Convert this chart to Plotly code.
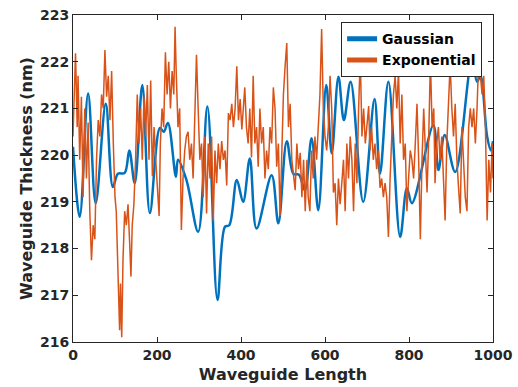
import plotly.graph_objects as go

# Gaussian-correlated roughness (smooth)
gauss_x = [0, 16, 36, 54, 78, 95, 107, 123, 134, 147, 165, 183, 207, 216, 226, 245, 250, 270,
           298, 320, 344, 362, 372, 390, 405, 421, 437, 473, 489, 509, 525, 538, 552, 568, 584,
           603, 616, 632, 645, 661, 691, 718, 731, 751, 779, 795, 807, 858, 870, 885, 910, 950,
           962, 970, 986, 995, 1000]
gauss_y = [220.18, 218.68, 221.32, 218.97, 221.1, 219.32, 219.6, 219.62, 220.1, 219.4, 221.5,
           218.76, 220.58, 220.5, 220.69, 219.54, 219.9, 219.47, 218.36, 221.04, 216.9, 218.47,
           218.5, 219.47, 219.0, 219.93, 218.43, 219.57, 218.54, 220.3, 219.6, 219.58, 219.25,
           220.36, 218.82, 221.5, 220.04, 221.68, 220.75, 221.57, 219.0, 221.2, 219.6, 221.57,
           218.25, 219.29, 218.97, 220.64, 219.68, 220.43, 219.64, 222.04, 221.57, 221.7, 220.4,
           220.1, 220.3]

# Exponential-correlated roughness (jagged)
expo_x = [0, 4, 6, 10, 12, 16, 20, 24, 28, 32, 36, 40, 44, 48, 52, 56, 60, 64, 68, 72, 76, 80,
          84, 88, 92, 96, 100, 103, 107, 111, 113, 116, 119, 123, 127, 131, 135, 138, 141, 145,
          149, 153, 157, 161, 165, 169, 173, 177, 181, 185, 189, 193, 197, 201, 205, 208, 212,
          216, 220, 224, 228, 232, 236, 240, 243, 246, 250, 254, 258, 262, 266, 270, 274, 278,
          282, 286, 290, 294, 298, 302, 306, 310, 314, 318, 322, 326, 330, 334, 338, 342, 346,
          350, 354, 358, 362, 366, 370, 374, 378, 382, 386, 390, 394, 398, 402, 406, 409, 413,
          417, 421, 425, 429, 433, 437, 441, 445, 449, 453, 457, 461, 465, 469, 473, 477, 481,
          485, 489, 493, 497, 501, 505, 509, 513, 517, 521, 525, 529, 533, 537, 541, 545, 549,
          553, 557, 560, 564, 568, 572, 576, 580, 584, 588, 592, 596, 600, 604, 608, 612, 616,
          620, 624, 628, 632, 636, 640, 644, 648, 652, 656, 660, 664, 668, 672, 676, 680, 684,
          688, 692, 696, 700, 704, 707, 711, 715, 719, 723, 727, 731, 735, 739, 743, 747, 751,
          755, 759, 763, 767, 771, 775, 779, 783, 787, 791, 795, 799, 803, 807, 811, 815, 819,
          823, 827, 831, 835, 839, 843, 847, 851, 855, 859, 862, 866, 870, 874, 878, 882, 886,
          890, 894, 898, 902, 906, 910, 914, 918, 922, 926, 930, 934, 938, 942, 946, 950, 954,
          958, 962, 966, 970, 974, 978, 982, 986, 990, 994, 998, 1000]
expo_y = [220.4, 221.47, 222.18, 220.6, 221.7, 219.9, 221.25, 219.1, 221.0, 219.5, 220.7, 218.8,
          217.75, 218.5, 218.2, 219.9, 220.75, 220.4, 221.3, 221.0, 222.25, 221.25, 221.7, 220.75,
          221.8, 220.25, 219.1, 218.8, 217.25, 216.25, 217.25, 216.1, 217.75, 218.8, 218.5,
          218.95, 218.1, 217.4, 218.5, 218.95, 219.9, 221.3, 220.25, 221.0, 219.9, 221.25, 220.4,
          221.5, 219.9, 221.6, 219.55, 220.6, 219.9, 219.2, 218.7, 220.25, 221.0, 220.6, 222.2,
          221.3, 222.0, 221.0, 221.8, 221.3, 222.75, 221.7, 220.6, 221.0, 218.4, 219.5, 220.1,
          220.4, 220.5, 219.9, 220.25, 219.5, 221.0, 222.15, 221.0, 219.9, 220.25, 219.1, 220.4,
          218.75, 220.25, 219.5, 220.4, 218.6, 220.1, 219.4, 220.25, 219.7, 220.3, 219.9, 220.1,
          219.35, 220.9, 220.75, 221.1, 220.6, 221.0, 221.9, 220.75, 221.2, 220.55, 221.0,
          221.45, 220.6, 220.25, 221.0, 219.95, 221.7, 220.25, 220.6, 219.75, 221.0, 220.25,
          220.6, 219.5, 220.1, 219.7, 220.6, 220.25, 221.45, 221.0, 219.75, 220.25, 218.7, 220.1,
          221.3, 221.9, 222.4, 220.6, 221.1, 219.9, 219.5, 219.25, 220.25, 219.7, 220.05, 219.1,
          219.9, 218.8, 219.9, 219.1, 218.8, 220.1, 219.5, 220.4, 219.9, 220.75, 221.3, 222.7,
          221.0, 220.4, 220.1, 220.6, 221.7, 221.0, 219.2, 219.4, 218.5, 219.5, 218.95, 219.4,
          219.9, 218.8, 220.25, 219.5, 220.4, 219.9, 218.8, 220.25, 219.4, 221.0, 222.1, 220.4,
          221.0, 220.25, 220.6, 221.05, 220.1, 220.6, 219.9, 220.25, 219.7, 220.1, 219.3, 219.5,
          219.1, 219.4, 219.1, 218.25, 219.5, 220.6, 221.3, 221.7, 221.0, 221.8, 220.25, 221.3,
          219.9, 220.25, 218.8, 219.5, 220.1, 219.9, 219.5, 220.25, 221.1, 219.9, 218.2, 219.9,
          221.0, 220.1, 219.2, 220.4, 222.05, 220.6, 221.0, 219.4, 220.25, 220.6, 219.9, 220.4,
          219.5, 218.6, 220.25, 221.0, 221.95, 221.0, 220.4, 221.1, 219.9, 219.3, 218.75, 220.6,
          219.9, 219.1, 218.8, 220.6, 221.0, 220.6, 221.0, 220.25, 221.0, 222.1, 221.7, 221.3,
          221.7, 220.6, 218.6, 219.9, 219.2, 220.25, 219.5]

x_ticks = [0, 200, 400, 600, 800, 1000]
y_ticks = [216, 217, 218, 219, 220, 221, 222, 223]

BLUE = "#0072BD"
ORANGE = "#D95319"
AX = "#262626"
FONT = "DejaVu Sans"

fig = go.Figure()
fig.add_trace(go.Scatter(x=gauss_x, y=gauss_y, mode="lines", name="<b>Gaussian</b>",
                         line=dict(color=BLUE, width=2.5, shape="spline", smoothing=1.0)))
fig.add_trace(go.Scatter(x=expo_x, y=expo_y, mode="lines", name="<b>Exponential</b>",
                         line=dict(color=ORANGE, width=1.5)))

axis_common = dict(showline=True, linecolor=AX, linewidth=1, mirror="ticks", ticks="inside",
                   ticklen=5, tickcolor=AX, showgrid=False, zeroline=False, automargin=False,
                   tickfont=dict(family=FONT, size=14, color=AX))

fig.update_xaxes(range=[0, 1000], tickvals=x_ticks, ticktext=[f"<b>{v}</b>" for v in x_ticks],
                 title=dict(text="<b>Waveguide Length</b>", font=dict(family=FONT, size=16, color=AX),
                            standoff=7),
                 **axis_common)
fig.update_yaxes(range=[216, 223], tickvals=y_ticks, ticktext=[f"<b>{v}</b>" for v in y_ticks],
                 title=dict(text="<b>Waveguide Thickness (nm)</b>", font=dict(family=FONT, size=16, color=AX),
                            standoff=3),
                 **axis_common)

fig.update_layout(
    width=518, height=387,
    margin=dict(l=73, r=25, t=15, b=45),
    paper_bgcolor="white", plot_bgcolor="white",
    showlegend=True,
    legend=dict(x=0.974, y=0.978, xanchor="right", yanchor="top",
                bgcolor="white", bordercolor=AX, borderwidth=1,
                font=dict(family=FONT, size=14, color="black"),
                tracegroupgap=0, itemsizing="constant"),
)

fig.write_html("out.html")
